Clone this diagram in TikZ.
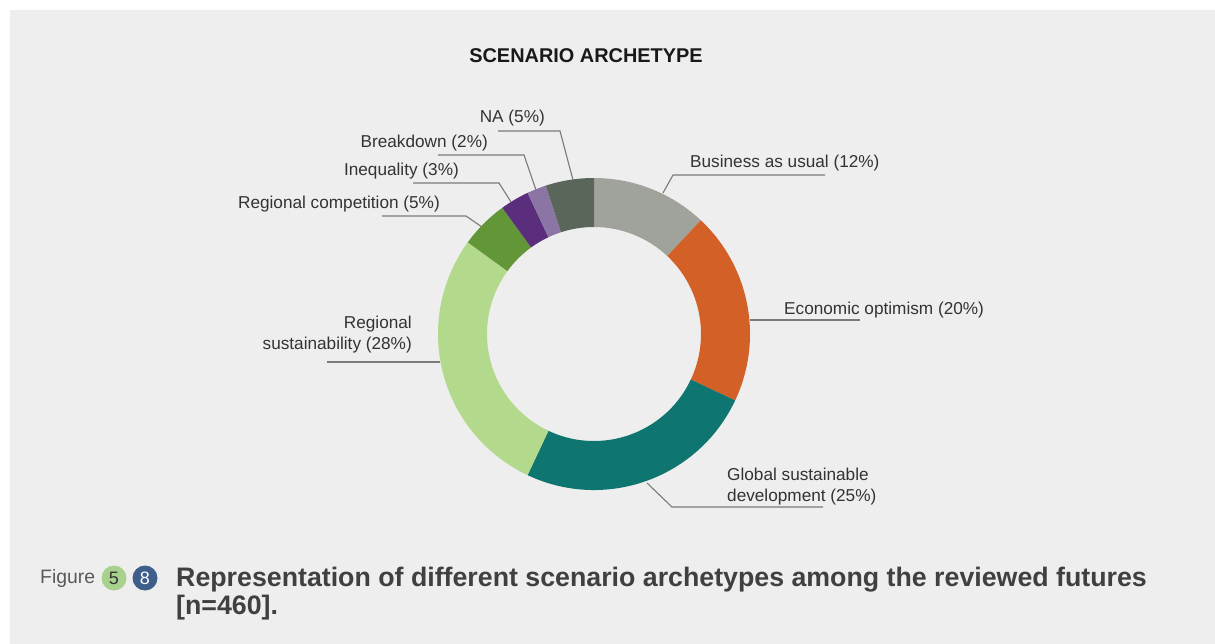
\documentclass[tikz,border=0pt]{standalone}
\usepackage{fontspec}
\setmainfont{Liberation Sans}
\usepackage{tikz}

\definecolor{canvas}{HTML}{EEEEEE}
\definecolor{bau}{HTML}{A0A39B}
\definecolor{ecoopt}{HTML}{D26027}
\definecolor{globsus}{HTML}{0E7570}
\definecolor{regsus}{HTML}{B3D98C}
\definecolor{regcomp}{HTML}{629637}
\definecolor{ineq}{HTML}{5A2E7D}
\definecolor{brkdown}{HTML}{8A75A5}
\definecolor{nacol}{HTML}{5B665B}
\definecolor{leadgray}{HTML}{7A7A7A}
\definecolor{txtgray}{HTML}{333333}
\definecolor{capgray}{HTML}{404040}
\definecolor{tagblue}{HTML}{3E5F8A}
\definecolor{taggreen}{HTML}{A9D18E}

\tikzset{
  lbl/.style={font=\fontsize{17.2}{21}\selectfont, text=txtgray, inner sep=0pt},
  leader/.style={draw=leadgray, line width=1.1pt},
  tag/.style={circle, minimum size=25pt, inner sep=0pt, font=\fontsize{18}{18}\selectfont}
}

\begin{document}
\begin{tikzpicture}[x=1pt,y=1pt]
                % Canvas
                \useasboundingbox (0,0) rectangle (1215,-644);
                \fill[canvas] (10,-10) rectangle (1215,-644);

                % Title
                \node[font=\bfseries\fontsize{19.9}{22}\selectfont, text=black!90] (title) at (586,-56) {SCENARIO ARCHETYPE};

                % Donut ring, clockwise from the top
                \begin{scope}[shift={(594,-334)}]
                \foreach \a/\b/\c in {90/46.8/bau, 46.8/-25.2/ecoopt, -25.2/-115.2/globsus,
                        -115.2/-216/regsus, -216/-234/regcomp, -234/-244.8/ineq,
                        -244.8/-252/brkdown, -252/-270/nacol}
                    \fill[\c] (\a:156) arc (\a:\b:156) -- (\b:107) arc (\b:\a:107) -- cycle;
                \end{scope}

                % Labels
                \node[lbl, anchor=base east] (t-na) at (545,-123) {NA (5\%)};
                \node[lbl, anchor=base east] (t-brk) at (488,-148) {Breakdown (2\%)};
                \node[lbl, anchor=base east] (t-ineq) at (459,-176) {Inequality (3\%)};
                \node[lbl, anchor=base east] (t-rcomp) at (440,-209) {Regional competition (5\%)};
                \node[lbl, anchor=base west] (t-bau) at (690,-168) {Business as usual (12\%)};
                \node[lbl, anchor=base west] (t-eco) at (784,-314) {Economic optimism (20\%)};
                \node[lbl, anchor=north west, align=left] (t-gsd) at (727,-467.5)
                    {Global sustainable\\development (25\%)};
                \node[lbl, anchor=north east, align=right] (t-rsus) at (412,-315.5)
                    {Regional\\sustainability (28\%)};

                % Leader lines
                \coordinate (na-a) at (573,-180);
                \coordinate (na-b) at (560,-131);
                \coordinate (na-c) at (498,-131);
                \coordinate (brk-a) at (536,-190);
                \coordinate (brk-b) at (524,-155);
                \coordinate (brk-c) at (438,-155);
                \coordinate (ineq-a) at (511,-202);
                \coordinate (ineq-b) at (499,-183);
                \coordinate (ineq-c) at (413,-183);
                \coordinate (rcomp-a) at (482,-227);
                \coordinate (rcomp-b) at (466,-216);
                \coordinate (rcomp-c) at (382,-216);
                \coordinate (bau-a) at (663,-193);
                \coordinate (bau-b) at (673,-175);
                \coordinate (bau-c) at (825,-175);
                \coordinate (eco-a) at (750,-320);
                \coordinate (eco-c) at (860,-320);
                \coordinate (gsd-a) at (647,-483);
                \coordinate (gsd-b) at (672,-507);
                \coordinate (gsd-c) at (823,-507);
                \coordinate (rsus-a) at (440,-362);
                \coordinate (rsus-c) at (327,-362);

                \draw[leader] (na-a) -- (na-b) -- (na-c);
                \draw[leader] (brk-a) -- (brk-b) -- (brk-c);
                \draw[leader] (ineq-a) -- (ineq-b) -- (ineq-c);
                \draw[leader] (rcomp-a) -- (rcomp-b) -- (rcomp-c);
                \draw[leader] (bau-a) -- (bau-b) -- (bau-c);
                \draw[leader] (eco-a) -- (eco-c);
                \draw[leader] (gsd-a) -- (gsd-b) -- (gsd-c);
                \draw[leader] (rsus-a) -- (rsus-c);

                % Caption
                \node[anchor=base west, inner sep=0pt, font=\fontsize{19.4}{22}\selectfont, text=black!65] (fig) at (40,-583) {Figure};
                \node[tag, fill=taggreen, text=txtgray] (tag5) at (114,-578) {5};
                \node[tag, fill=tagblue, text=white] (tag8) at (145,-578) {8};
                \node[anchor=north west, align=left, inner sep=0pt, text=capgray,
                      font=\bfseries\fontsize{26.75}{28}\selectfont] (caption) at (176,-566.5)
                    {Representation of different scenario archetypes among the reviewed futures\\{}[n=460].};
            \end{tikzpicture}
\end{document}
